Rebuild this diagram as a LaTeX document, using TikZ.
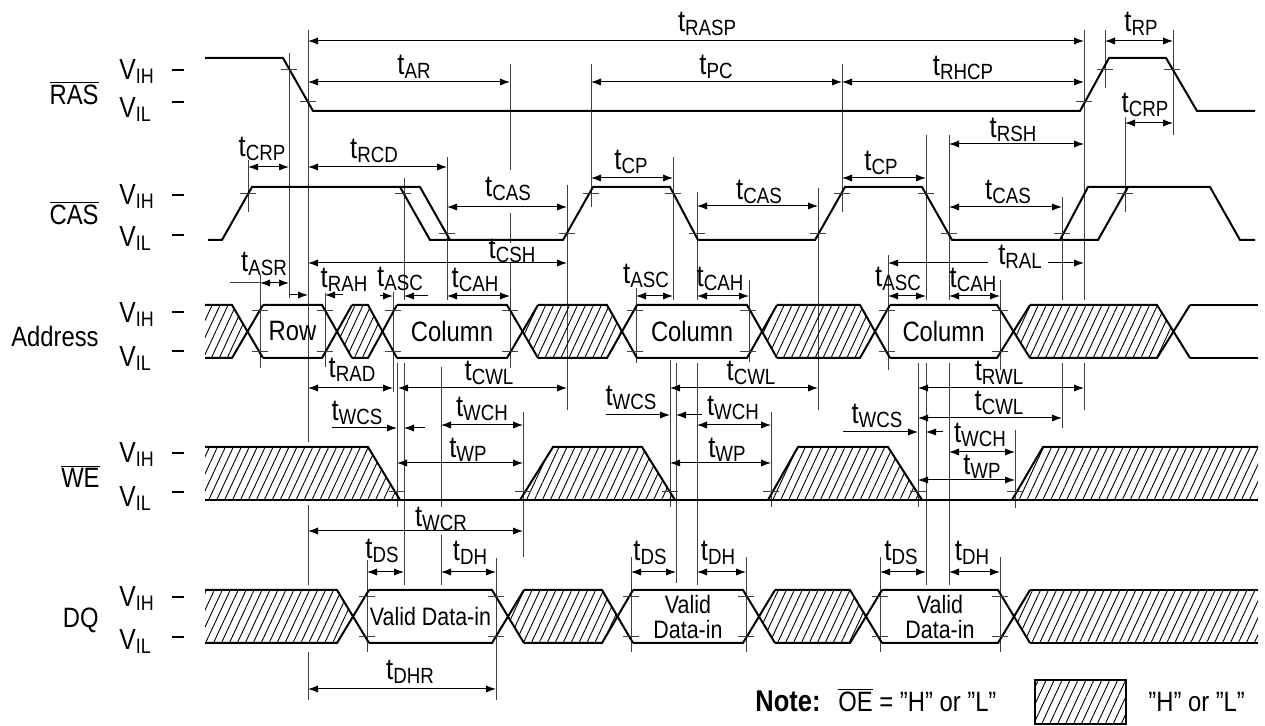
\documentclass[tikz,border=0pt]{standalone}
\usepackage{fontspec}
\setmainfont{Liberation Sans}[FakeStretch=0.85]
\usetikzlibrary{arrows.meta}
\usetikzlibrary{patterns.meta}

\newcommand{\tm}[1]{t\raisebox{-2pt}{\fontsize{11}{11}\selectfont #1}}
\newcommand{\vlev}[1]{V\raisebox{-1.7pt}{\fontsize{10.5}{10.5}\selectfont #1}}
\newcommand{\qt}{\symbol{34}}

\tikzset{
  sig/.style={line width=1pt},
  refl/.style={line width=0.5pt, black!75},
  tickmark/.style={line width=0.5pt, black!75},
  dim/.style={line width=0.5pt, {Latex[length=5pt,width=3.6pt]}-{Latex[length=5pt,width=3.6pt]}},
  dimin/.style={line width=0.5pt, -{Latex[length=5pt,width=3.6pt]}},
  tlab/.style={font=\fontsize{15}{15}\selectfont, inner sep=0pt},
  hatch/.style={pattern={Lines[angle=65,distance=3.6pt,line width=0.45pt]}},
  signame/.style={anchor=base east, font=\fontsize{14}{14}\selectfont, inner sep=0pt},
  lvl/.style={anchor=base west, font=\fontsize{14.5}{14.5}\selectfont, inner sep=0pt},
  busText/.style={font=\fontsize{14}{14}\selectfont},
  dataText/.style={font=\fontsize{12.6}{12.5}\selectfont, align=center},
}

\begin{document}
\begin{tikzpicture}[x=0.5pt, y=-0.5pt]
  \useasboundingbox (0,0) rectangle (1265,726);

  % signal names and levels
  \node[signame] (ras) at (99,105) {$\overline{\mbox{RAS}}$};
  \node[signame] (cas) at (99,225) {$\overline{\mbox{CAS}}$};
  \node[signame] (addr) at (99,347) {Address};
  \node[signame] (we) at (100,488) {$\overline{\mbox{WE}}$};
  \node[signame] (dq) at (99,628) {DQ};
  \foreach \y/\s in {80/IH, 118/IL, 205/IH, 247/IL, 323/IH, 367/IL, 463/IH, 507/IL, 607/IH, 650/IL}
    \node[lvl] at (119,\y) {\vlev{\s}};
  \foreach \y in {70,102,195,235,312,351,453,492,597,637}
    \draw[sig] (172,\y) -- (184,\y);

  % reference lines
  \foreach \x/\ya/\yb in {248/160/212, 260/275/368, 289/53/298, 308/30/442, 308/505/585, 308/652/700,
      325/293/367, 393/292/392, 397/363/507, 404/178/300, 404/363/585, 441/367/507, 441/535/585,
      447/157/300, 510/64/170, 510/213/243, 510/262/368, 523/412/557, 567/185/410, 591/64/207,
      636/288/363, 670/360/507, 673/157/300, 676/363/583, 697/192/300, 697/363/585, 749/280/362,
      771/412/507, 818/188/410, 842/64/212, 888/255/370, 918/363/507, 926/135/300, 926/363/585,
      949/135/300, 949/363/585, 1000/280/370, 1015/430/508, 1062/197/300, 1062/363/428,
      1084/30/300, 1084/363/410, 1105/30/88, 1125/117/212, 1173/30/135,
      367/560/652, 496/558/700, 631/557/652, 746/557/652, 880/557/652, 1000/557/652}
    \draw[refl] (\x,\ya) -- (\x,\yb);

  % RAS and CAS
  \draw[sig] (205,58) -- (283,58) -- (313,111) -- (1080,111) -- (1109,58) -- (1166,58) -- (1197,111) -- (1255,111);
  \draw[sig] (208,240) -- (222,240) -- (252,187) -- (420,187) -- (450,240);
  \draw[sig] (400,187) -- (430,240) -- (563,240) -- (593,187) -- (670,187) -- (698,240) -- (815,240)
    -- (845,187) -- (922,187) -- (952,240) -- (1098,240) -- (1128,187);
  \draw[sig] (1060,240) -- (1088,187) -- (1210,187) -- (1240,240) -- (1255,240);

  % Address
  \fill[hatch] (205,305) -- (232,305) -- (247.5,331.5) -- (232,358) -- (205,358) -- cycle;
  \fill[hatch] (337,331.5) -- (352,305) -- (368,305) -- (382.5,331.5) -- (368,358) -- (352,358) -- cycle;
  \fill[hatch] (522.5,331.5) -- (538,305) -- (607,305) -- (622,331.5) -- (607,358) -- (538,358) -- cycle;
  \fill[hatch] (762,331.5) -- (777,305) -- (860,305) -- (875,331.5) -- (860,358) -- (777,358) -- cycle;
  \fill[hatch] (1013.5,331.5) -- (1030,305) -- (1157,305) -- (1173.5,331.5) -- (1157,358) -- (1030,358) -- cycle;
  \foreach \a/\b [remember=\b as \pb (initially 205)] in {232/263, 322/352, 368/397, 507/538, 607/637,
      747/777, 860/890, 997/1030, 1157/1190} {
    \draw[sig] (\pb,305) -- (\a,305) -- (\b,358);
    \draw[sig] (\pb,358) -- (\a,358) -- (\b,305);
  }
  \draw[sig] (1190,305) -- (1258,305) (1190,358) -- (1258,358);
  \node[busText] (row) at (292.5,331.5) {Row};
  \node[busText] (col1) at (452,331.5) {Column};
  \node[busText] (col2) at (692,331.5) {Column};
  \node[busText] (col3) at (943.5,331.5) {Column};

  % WE
  \fill[hatch] (205,447) -- (368,447) -- (400,500) -- (205,500) -- cycle;
  \fill[hatch] (520,500) -- (553,447) -- (642,447) -- (675,500) -- cycle;
  \fill[hatch] (768,500) -- (798,447) -- (888,447) -- (922,500) -- cycle;
  \fill[hatch] (1012,500) -- (1043,447) -- (1258,447) -- (1258,500) -- cycle;
  \draw[sig] (205,447) -- (368,447) -- (400,500);
  \draw[sig] (520,500) -- (553,447) -- (642,447) -- (675,500);
  \draw[sig] (768,500) -- (798,447) -- (888,447) -- (922,500);
  \draw[sig] (1012,500) -- (1043,447) -- (1258,447);
  \draw[sig] (205,500) -- (1258,500);

  % DQ
  \fill[hatch] (205,590) -- (337,590) -- (353,616.5) -- (337,643) -- (205,643) -- cycle;
  \fill[hatch] (508,616.5) -- (524,590) -- (602,590) -- (617.5,616.5) -- (602,643) -- (524,643) -- cycle;
  \fill[hatch] (759,616.5) -- (775,590) -- (850,590) -- (866,616.5) -- (850,643) -- (775,643) -- cycle;
  \fill[hatch] (1014,616.5) -- (1030,590) -- (1258,590) -- (1258,643) -- (1030,643) -- cycle;
  \foreach \a/\b [remember=\b as \pb (initially 205)] in {337/369, 492/524, 602/633, 743/775, 850/882, 998/1030} {
    \draw[sig] (\pb,590) -- (\a,590) -- (\b,643);
    \draw[sig] (\pb,643) -- (\a,643) -- (\b,590);
  }
  \draw[sig] (1030,590) -- (1258,590) (1030,643) -- (1258,643);
  \node[dataText] (din1) at (430.5,616.5) {Valid Data-in};
  \node[dataText] (din2) at (688,616.5) {Valid\\Data-in};
  \node[dataText] (din3) at (940,616.5) {Valid\\Data-in};

  % crossing ticks
  \foreach \x/\y in {289/70, 308/102, 1084/102, 1105/70, 1172/70,
      248/194, 403/194, 591/194, 673/194, 842/194, 926/194, 1125/194,
      447/234, 567/234, 697/234, 818/234, 949/234, 1062/234,
      397/492, 523/492, 670/492, 771/492, 918/492, 1015/492}
    \draw[tickmark] (\x-8,\y) -- (\x+8,\y);
  \foreach \x in {260,325,393,510,635,748,887,1000}
    \draw[tickmark] (\x-8,311) -- (\x+8,311) (\x-8,352) -- (\x+8,352);
  \foreach \x in {367,496,631,746,880,1000}
    \draw[tickmark] (\x-8,597) -- (\x+8,597) (\x-8,637) -- (\x+8,637);

  % timing arrows
  \foreach \xa/\xb/\y in {308/1084/41, 1105/1173/41, 308/510/82, 591/842/82, 842/1084/82,
      1125/1173/123, 949/1084/144, 248/289/167, 308/447/167, 591/673/178, 842/926/178,
      447/567/207, 697/818/206, 949/1062/207, 308/567/263, 260/289/283,
      447/510/296, 636/673/296, 697/749/296, 888/926/296, 949/1000/296,
      308/393/388, 398/567/388, 670/818/388, 918/1084/388, 918/1062/418,
      441/523/425, 697/771/425, 949/1015/452, 397/523/463, 670/771/463, 918/1015/480,
      308/523/531, 367/404/572, 441/496/572, 631/676/572, 697/746/572, 880/926/572, 949/1000/572,
      308/496/689}
    \draw[dim] (\xa,\y) -- (\xb,\y);
  \draw[refl] (230,283) -- (260,283);
  \draw[dimin] (988,263) -- (888,263);
  \draw[dimin] (1048,263) -- (1084,263);
  \foreach \xa/\xb/\y in {290/308/295, 343/325/295, 380/393/296, 428/404/296,
      332/397/428, 425/404/428, 606/670/415, 702/676/415, 843/918/432, 943/926/432}
    \draw[dimin] (\xa,\y) -- (\xb,\y);

  % timing labels
  \foreach \x/\y/\s in {707/24/RASP, 414/67/AR, 716/67/PC, 963/68/RHCP, 1141/24/RP, 1145/105/CRP,
      262/149/CRP, 374/151/RCD, 508/189/CAS, 631/162/CP, 759/192/CAS, 881/163/CP, 1013/130/RSH,
      1008/192/CAS, 512/251/CSH, 1020/257/RAL, 264/264/ASR, 344/280/RAH, 400/279/ASC, 475/280/CAH,
      646/276/ASC, 720/279/CAH, 898/279/ASC, 973/280/CAH, 352/370/RAD, 489/373/CWL, 751/373/CWL,
      999/373/RWL, 999/403/CWL, 357/413/WCS, 482/409/WCH, 631/398/WCS, 733/408/WCH, 877/416/WCS,
      980/435/WCH, 468/450/WP, 727/450/WP, 982/467/WP, 441/519/WCR, 382/551/DS, 470/553/DH,
      650/553/DS, 718/553/DH, 901/553/DS, 972/553/DH, 410/672/DHR}
    \node[tlab] at (\x,\y) {\tm{\s}};

  % note and legend
  \node[anchor=base west, font=\bfseries\fontsize{15}{15}\selectfont, inner sep=0pt] (note) at (755,712) {Note:};
  \node[anchor=base west, font=\fontsize{14}{14}\selectfont, inner sep=0pt] (oe) at (838,712) {$\overline{\mbox{OE}}$ = \qt H\qt{} or \qt L\qt};
  \fill[hatch] (1035,680) rectangle (1126,724);
  \draw[line width=0.75pt] (1035,680) rectangle (1126,724);
  \node[anchor=base west, font=\fontsize{14}{14}\selectfont, inner sep=0pt] (hl) at (1148,712) {\qt H\qt{} or \qt L\qt};
\end{tikzpicture}
\end{document}
